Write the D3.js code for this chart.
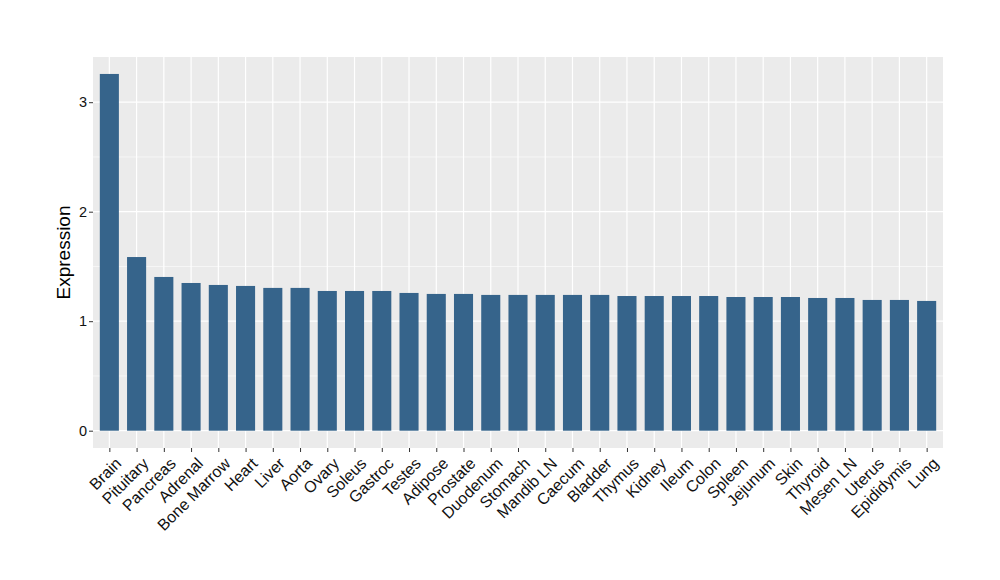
<!DOCTYPE html>
<html><head><meta charset="utf-8">
<script src="https://cdn.jsdelivr.net/npm/d3@7"></script>
<style>body{margin:0;background:#fff}svg{display:block}</style>
</head><body>
<svg id="chart" width="1000" height="580"></svg>
<script>
const categories = ["Brain","Pituitary","Pancreas","Adrenal","Bone Marrow","Heart","Liver","Aorta","Ovary","Soleus","Gastroc","Testes","Adipose","Prostate","Duodenum","Stomach","Mandib LN","Caecum","Bladder","Thymus","Kidney","Ileum","Colon","Spleen","Jejunum","Skin","Thyroid","Mesen LN","Uterus","Epididymis","Lung"];
const values = [3.258,1.586,1.404,1.349,1.331,1.322,1.304,1.304,1.276,1.276,1.276,1.258,1.249,1.249,1.240,1.240,1.240,1.240,1.240,1.230,1.230,1.230,1.230,1.221,1.221,1.221,1.212,1.212,1.194,1.194,1.185];
const yTicks = [0,1,2,3];
const yMinor = [0.5,1.5,2.5];

(function(){
const svg = d3.select("#chart");
const pL = 93, pR = 943, pT = 57, pB = 448;
const font = "'Liberation Sans', Arial, Helvetica, sans-serif";

const x = d3.scalePoint().domain(categories).range([pL, pR]).padding(0.6);
const step = x.step();
const y = d3.scaleLinear().domain([0, 1]).range([430.7, 430.7 - 109.5]);

svg.append("rect").attr("x", pL).attr("y", pT).attr("width", pR-pL).attr("height", pB-pT).attr("fill", "#EBEBEB");

const g = svg.append("g");
g.selectAll(".minor").data(yMinor).enter().append("line")
  .attr("x1", pL).attr("x2", pR).attr("y1", d=>y(d)).attr("y2", d=>y(d))
  .attr("stroke", "#fff").attr("stroke-width", 0.6);
g.selectAll(".major").data(yTicks).enter().append("line")
  .attr("x1", pL).attr("x2", pR).attr("y1", d=>y(d)).attr("y2", d=>y(d))
  .attr("stroke", "#fff").attr("stroke-width", 1.2);
g.selectAll(".vmajor").data(categories).enter().append("line")
  .attr("x1", d=>x(d)).attr("x2", d=>x(d)).attr("y1", pT).attr("y2", pB)
  .attr("stroke", "#fff").attr("stroke-width", 1.2);

const barW = step * 0.7;
g.selectAll(".bar").data(categories).enter().append("rect")
  .attr("x", d=>x(d) - barW/2).attr("width", barW)
  .attr("y", (d,i)=>y(values[i])).attr("height", (d,i)=>y(0)-y(values[i]))
  .attr("fill", "#36648B");

const yAxis = d3.axisLeft(y).tickValues(yTicks).tickSize(4).tickPadding(2).tickFormat(d3.format("d"));
const ya = svg.append("g").attr("transform", `translate(${pL},0)`).call(yAxis);
ya.select(".domain").remove();
ya.selectAll(".tick line").attr("stroke", "#333");
ya.selectAll(".tick text").attr("fill", "#111").style("font-family", font).style("font-size", "14.5px");

const xAxis = d3.axisBottom(x).tickSize(4).tickPadding(3);
const xa = svg.append("g").attr("transform", `translate(0,${pB})`).call(xAxis);
xa.select(".domain").remove();
xa.selectAll(".tick line").attr("stroke", "#333");
xa.selectAll(".tick text")
  .attr("fill", "#111").style("font-family", font).style("font-size", "16px")
  .attr("text-anchor", "end").attr("y", 0).attr("dy", "0.75em")
  .attr("transform", "translate(4,8) rotate(-45)");

svg.append("text").attr("transform", `translate(70,${(pT+pB)/2}) rotate(-90)`)
  .attr("text-anchor", "middle").style("font-family", font).style("font-size", "19px")
  .attr("fill", "#000").text("Expression");
})();
</script>
</body></html>
